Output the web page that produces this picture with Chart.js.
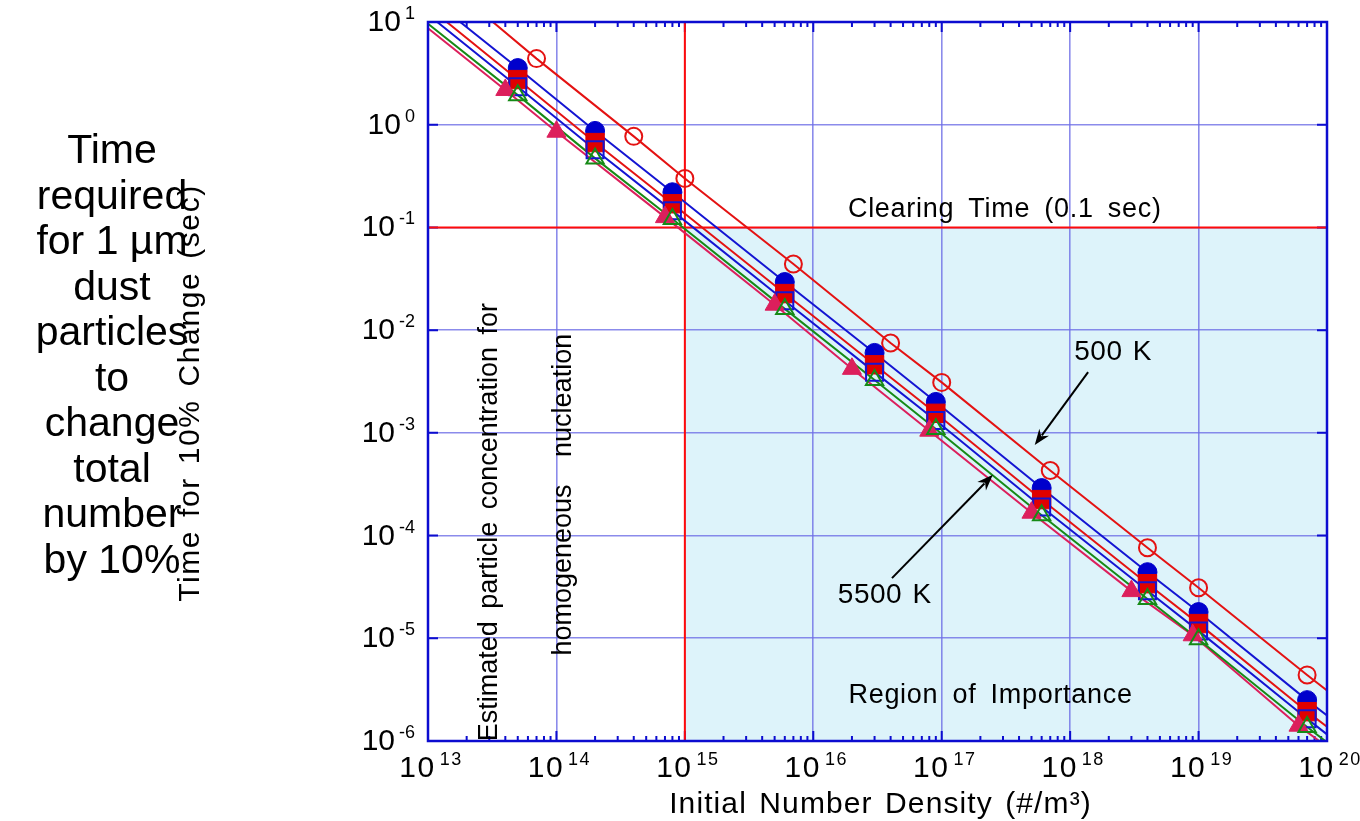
<!DOCTYPE html>
<html>
<head>
<meta charset="utf-8">
<script src="https://cdn.jsdelivr.net/npm/chart.js@4"></script>
<style>
  html, body { margin: 0; padding: 0; background: #fff; }
  #wrap { width: 1360px; height: 821px; position: relative; }
</style>
</head>
<body>
<div id="wrap"><canvas id="chart"></canvas></div>
<script>
const X_MIN = 1e13, X_MAX = 1e20;
const Y_MIN = 1e-6, Y_MAX = 10;
const X_DECADES = [13, 14, 15, 16, 17, 18, 19, 20];
const Y_DECADES = [-6, -5, -4, -3, -2, -1, 0, 1];
const CLEAR_TIME = 0.1;
const REGION_X_MIN = 1e15;

// open red circles (500 K, top curve)
const redCircleX = [7e13, 4e14, 1e15, 7e15, 4e16, 1e17, 7e17, 4e18, 1e19, 7e19];
const redCircleY = [4.4, 0.77, 0.30, 0.044, 0.0075, 0.0031, 4.3e-4, 7.6e-5, 3.1e-5, 4.4e-6];
const redCircleEnds = [[3.2e13, 10], [1e20, 3.1e-6]];

// the four stacked series share x positions
const clusterX = [5e13, 2e14, 8e14, 6e15, 3e16, 9e16, 6e17, 4e18, 1e19, 7e19];
const blueDotY = [3.56, 0.87, 0.22, 0.0294, 0.0060, 0.0020, 2.9e-4, 4.4e-5, 1.8e-5, 2.5e-6];
const blueDotEnds = [[1.78e13, 10], [1e20, 1.77e-6]];
const redSquareY = [2.75, 0.67, 0.17, 0.0227, 0.0046, 0.00155, 2.24e-4, 3.4e-5, 1.39e-5, 1.93e-6];
const redSquareEnds = [[1.4e13, 10], [1e20, 1.38e-6]];
const blueSquareY = [2.34, 0.57, 0.145, 0.0193, 0.0039, 0.00132, 1.9e-4, 2.9e-5, 1.18e-5, 1.65e-6];
const blueSquareEnds = [[1.18e13, 10], [1e20, 1.16e-6]];
const greenTriY = [1.94, 0.47, 0.121, 0.0161, 0.00327, 0.00109, 1.58e-4, 2.41e-5, 9.8e-6, 1.37e-6];
const greenTriEnds = [[1e13, 9.6], [9.7e19, 1e-6]];

// filled crimson triangles (5500 K, bottom curve)
const crimsonX = [4e13, 1e14, 7e14, 5e15, 2e16, 8e16, 5e17, 3e18, 9e18, 6e19];
const crimsonY = [2.18, 0.855, 0.126, 0.0177, 0.0042, 0.00105, 1.67e-4, 2.88e-5, 1.07e-5, 1.41e-6];
const crimsonEnds = [[1e13, 8.7], [8.7e19, 1e-6]];

const sideNote = ["Time", "required", "for 1 µm", "dust", "particles", "to", "change", "total", "number", "by 10%"];

const notes = [
  { text: "Clearing Time (0.1 sec)", x: 3.1e17, y: 0.125 },
  { text: "Region of Importance", x: 2.4e17, y: 2.35e-6 },
  { text: "500 K", x: 2.16e18, y: 5.1e-3 },
  { text: "5500 K", x: 3.6e16, y: 2.2e-5 }
];
const sideways = [
  { text: "Estimated particle concentration for", x: 3.45e13, y: 1.35e-4 },
  { text: "homogeneous nucleation", x: 1.3e14, y: 2.5e-4 }
];
const arrows = [
  { from: [1.38e18, 3.9e-3], to: [5.3e17, 7.6e-4] },
  { from: [4.1e16, 3.85e-5], to: [2.5e17, 3.9e-4] }
];

const RED = "#e41212", BLUE = "#1414d2", GREEN = "#168a16", CRIMSON = "#dc1f5c";
const GRID = "rgba(110,110,230,0.8)", AXIS = "#0c0cd0";
const FONT = "'Liberation Sans', Arial, sans-serif";

const pts = (xs, ys) => xs.map((v, i) => ({ x: v, y: ys[i] }));
const withEnds = (xs, ys, ends) => [{ x: ends[0][0], y: ends[0][1] }, ...pts(xs, ys), { x: ends[1][0], y: ends[1][1] }];
const pow10 = e => Number("1e" + e);

function lineSet(data, color) {
  return { data, showLine: true, borderColor: color, borderWidth: 2, pointRadius: 0, order: 10, tension: 0 };
}
function markSet(data, style, radius, color, filled, order) {
  return {
    data, showLine: false, pointStyle: style, pointRadius: radius,
    borderColor: color, backgroundColor: filled ? color : "rgba(0,0,0,0)",
    borderWidth: filled ? 1 : 2, order
  };
}

function setSpacing(ctx, letter, word) {
  if ("letterSpacing" in ctx) ctx.letterSpacing = letter + "px";
  if ("wordSpacing" in ctx) ctx.wordSpacing = word + "px";
}

function drawPow(ctx, exp, x, y, align, size, supSize, rise, spacing) {
  ctx.textAlign = "left";
  ctx.textBaseline = "alphabetic";
  setSpacing(ctx, spacing, 0);
  ctx.font = size + "px " + FONT;
  const wb = ctx.measureText("10").width;
  ctx.font = supSize + "px " + FONT;
  const we = ctx.measureText(exp).width;
  const gap = 4;
  const total = wb + gap + we;
  const x0 = align === "right" ? x - total : x - total / 2;
  ctx.font = size + "px " + FONT;
  ctx.fillText("10", x0, y);
  ctx.font = supSize + "px " + FONT;
  ctx.fillText(exp, x0 + wb + gap, y - rise);
}

const decorPlugin = {
  id: "decor",
  beforeDraw(chart) {
    const { ctx, scales: { x, y } } = chart;
    const l = x.getPixelForValue(REGION_X_MIN), r = x.getPixelForValue(X_MAX);
    const t = y.getPixelForValue(CLEAR_TIME), b = y.getPixelForValue(Y_MIN);
    ctx.save();
    ctx.fillStyle = "#ddf3fa";
    ctx.fillRect(l, t, r - l, b - t);
    ctx.restore();
  },
  beforeDatasetsDraw(chart) {
    const { ctx, chartArea: a, scales: { x, y } } = chart;
    ctx.save();
    // inward ticks on all four sides
    ctx.strokeStyle = AXIS;
    ctx.lineWidth = 2;
    ctx.beginPath();
    X_DECADES.forEach((e, i) => {
      const px = x.getPixelForValue(pow10(e));
      ctx.moveTo(px, a.bottom); ctx.lineTo(px, a.bottom - 10);
      ctx.moveTo(px, a.top); ctx.lineTo(px, a.top + 10);
      if (i === X_DECADES.length - 1) return;
      for (let m = 2; m <= 9; m++) {
        const q = x.getPixelForValue(m * pow10(e));
        ctx.moveTo(q, a.bottom); ctx.lineTo(q, a.bottom - 5);
        ctx.moveTo(q, a.top); ctx.lineTo(q, a.top + 5);
      }
    });
    Y_DECADES.forEach(e => {
      const py = y.getPixelForValue(pow10(e));
      ctx.moveTo(a.left, py); ctx.lineTo(a.left + 10, py);
      ctx.moveTo(a.right, py); ctx.lineTo(a.right - 10, py);
    });
    ctx.stroke();

    // clearing time and region boundary
    const vx = x.getPixelForValue(REGION_X_MIN), hy = y.getPixelForValue(CLEAR_TIME);
    ctx.strokeStyle = "#ff0a0a";
    ctx.lineWidth = 2;
    ctx.beginPath();
    ctx.moveTo(vx, a.top); ctx.lineTo(vx, a.bottom);
    ctx.moveTo(a.left, hy); ctx.lineTo(a.right, hy);
    ctx.stroke();
    ctx.restore();
  },
  afterDatasetsDraw(chart) {
    const { ctx, chartArea: a, scales: { x, y } } = chart;
    ctx.save();
    ctx.strokeStyle = AXIS;
    ctx.lineWidth = 2.5;
    ctx.strokeRect(a.left, a.top, a.right - a.left, a.bottom - a.top);

    // arrows
    ctx.strokeStyle = "#000";
    ctx.fillStyle = "#000";
    ctx.lineWidth = 2;
    arrows.forEach(ar => {
      const x1 = x.getPixelForValue(ar.from[0]), y1 = y.getPixelForValue(ar.from[1]);
      const x2 = x.getPixelForValue(ar.to[0]), y2 = y.getPixelForValue(ar.to[1]);
      const ang = Math.atan2(y2 - y1, x2 - x1);
      const len = 16, half = 6;
      const bx = x2 - Math.cos(ang) * len, by = y2 - Math.sin(ang) * len;
      ctx.beginPath();
      ctx.moveTo(x1, y1); ctx.lineTo(bx + Math.cos(ang) * 4, by + Math.sin(ang) * 4);
      ctx.stroke();
      ctx.beginPath();
      ctx.moveTo(x2, y2);
      ctx.lineTo(bx + Math.sin(ang) * half, by - Math.cos(ang) * half);
      ctx.lineTo(bx + Math.cos(ang) * 5, by + Math.sin(ang) * 5);
      ctx.lineTo(bx - Math.sin(ang) * half, by + Math.cos(ang) * half);
      ctx.closePath();
      ctx.fill();
    });

    // in-plot labels
    ctx.fillStyle = "#000";
    ctx.textAlign = "center";
    ctx.textBaseline = "alphabetic";
    notes.forEach(n => {
      const big = n.text.endsWith("K");
      ctx.font = (big ? 28 : 27) + "px " + FONT;
      setSpacing(ctx, big ? 0.5 : 0.7, big ? 2 : 6);
      ctx.fillText(n.text, x.getPixelForValue(n.x), y.getPixelForValue(n.y));
    });
    sideways.forEach(n => {
      ctx.save();
      ctx.translate(x.getPixelForValue(n.x), y.getPixelForValue(n.y));
      ctx.rotate(-Math.PI / 2);
      ctx.font = "27px " + FONT;
      setSpacing(ctx, 0, n.text.startsWith("homo") ? 20 : 5);
      ctx.fillText(n.text, 0, 0);
      ctx.restore();
    });
    ctx.restore();
  },
  afterDraw(chart) {
    const { ctx, chartArea: a, scales: { x, y } } = chart;
    ctx.save();
    ctx.fillStyle = "#000";
    // tick labels
    Y_DECADES.forEach(e => {
      drawPow(ctx, String(e), a.left - 13, y.getPixelForValue(pow10(e)) + 9, "right", 30, 18, 12, 0);
    });
    X_DECADES.forEach(e => {
      drawPow(ctx, String(e), x.getPixelForValue(pow10(e)) + 3, a.bottom + 36, "center", 30, 18, 12, 1.5);
    });
    // axis titles
    ctx.textAlign = "center";
    ctx.textBaseline = "alphabetic";
    ctx.font = "30px " + FONT;
    setSpacing(ctx, 1.1, 3);
    ctx.fillText("Initial Number Density (#/m³)", (a.left + a.right) / 2 + 3, a.bottom + 72);

    ctx.save();
    ctx.translate(199, 393);
    ctx.rotate(-Math.PI / 2);
    ctx.font = "30px " + FONT;
    setSpacing(ctx, 1.6, 3);
    ctx.fillText("Time for 10% Change (sec)", 0, 0);
    ctx.restore();

    ctx.font = "41px " + FONT;
    setSpacing(ctx, 0, 0);
    ctx.textBaseline = "middle";
    sideNote.forEach((line, i) => ctx.fillText(line, 112, 152 + i * 45.5));
    ctx.restore();
  }
};

new Chart(document.getElementById("chart"), {
  type: "scatter",
  data: {
    datasets: [
      lineSet(withEnds(redCircleX, redCircleY, redCircleEnds), RED),
      lineSet(withEnds(clusterX, blueDotY, blueDotEnds), BLUE),
      lineSet(withEnds(clusterX, redSquareY, redSquareEnds), RED),
      lineSet(withEnds(clusterX, blueSquareY, blueSquareEnds), BLUE),
      lineSet(withEnds(clusterX, greenTriY, greenTriEnds), GREEN),
      lineSet(withEnds(crimsonX, crimsonY, crimsonEnds), CRIMSON),
      markSet(pts(redCircleX, redCircleY), "circle", 8.5, RED, false, 6),
      markSet(pts(clusterX, blueDotY), "circle", 9.5, "#0000cc", true, 5),
      markSet(pts(clusterX, redSquareY), "rect", 13, "#e00000", true, 4),
      markSet(pts(clusterX, blueSquareY), "rect", 12, BLUE, false, 3),
      markSet(pts(crimsonX, crimsonY), "triangle", 11, CRIMSON, true, 2),
      markSet(pts(clusterX, greenTriY), "triangle", 10, GREEN, false, 1)
    ]
  },
  options: {
    responsive: true,
    maintainAspectRatio: false,
    animation: false,
    events: [],
    layout: { padding: { left: 428, right: 33, top: 22, bottom: 80 } },
    plugins: { legend: { display: false }, tooltip: { enabled: false } },
    scales: {
      x: {
        type: "logarithmic", min: X_MIN, max: X_MAX,
        afterBuildTicks: s => { s.ticks = X_DECADES.map(e => ({ value: pow10(e) })); },
        afterFit: s => { s.height = 0; },
        ticks: { display: false },
        grid: { color: GRID, lineWidth: 1.6, drawTicks: false },
        border: { display: false }
      },
      y: {
        type: "logarithmic", min: Y_MIN, max: Y_MAX,
        afterBuildTicks: s => { s.ticks = Y_DECADES.map(e => ({ value: pow10(e) })); },
        afterFit: s => { s.width = 0; },
        ticks: { display: false },
        grid: { color: GRID, lineWidth: 1.6, drawTicks: false },
        border: { display: false }
      }
    }
  },
  plugins: [decorPlugin]
});
</script>
</body>
</html>
